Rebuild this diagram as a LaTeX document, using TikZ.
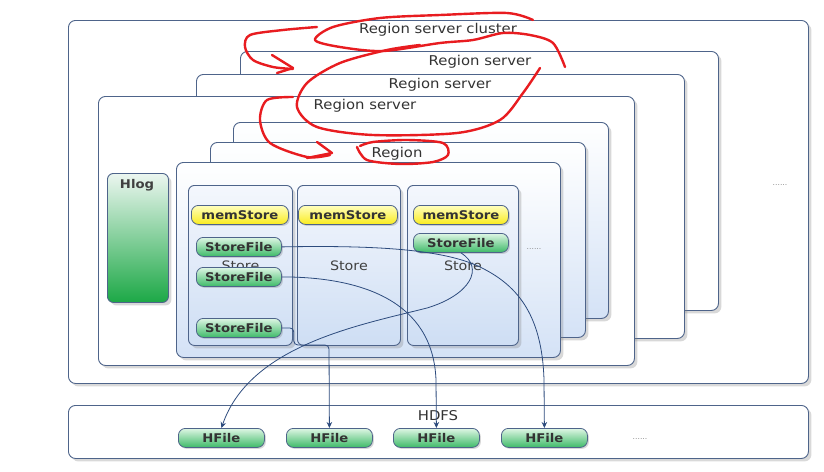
\documentclass[tikz,border=0pt]{standalone}
\usepackage{fontspec}
\setmainfont{DejaVu Sans}[FakeStretch=1.1]
\usetikzlibrary{shadows,arrows.meta}
\definecolor{boxline}{RGB}{78,100,138}
\definecolor{linkblue}{RGB}{45,75,125}
\definecolor{regbot}{RGB}{212,226,246}
\definecolor{storetop}{RGB}{244,247,253}
\definecolor{storebot}{RGB}{206,222,244}
\definecolor{memtop}{RGB}{255,255,190}
\definecolor{membot}{RGB}{250,236,30}
\definecolor{filetop}{RGB}{222,246,228}
\definecolor{filebot}{RGB}{62,186,104}
\definecolor{hlogtop}{RGB}{236,246,240}
\definecolor{hlogbot}{RGB}{28,168,70}
\definecolor{inkred}{RGB}{232,28,32}
\tikzset{
  panel/.style={draw=boxline, line width=0.9pt, rounded corners=7pt, fill=white,
    drop shadow={shadow xshift=3pt, shadow yshift=-3pt, opacity=0.3},
    anchor=north west, inner sep=0pt},
  regionbox/.style={panel, top color=white, bottom color=regbot},
  storebox/.style={panel, rounded corners=6pt, top color=storetop, bottom color=storebot,
    font=\fontsize{13}{15}\selectfont, text=black!75},
  chip/.style={draw=boxline, line width=0.8pt, rounded corners=7pt, anchor=north west,
    inner sep=0pt, font=\bfseries\fontsize{12}{13}\selectfont, text=black!80,
    drop shadow={shadow xshift=1.5pt, shadow yshift=-1.5pt, opacity=0.3}},
  memchip/.style={chip, top color=memtop, bottom color=membot, minimum height=19pt},
  filechip/.style={chip, top color=filetop, bottom color=filebot, minimum height=19pt},
  tag/.style={inner sep=0pt, font=\fontsize{13.5}{15}\selectfont, text=black!80},
  dots/.style={inner sep=0pt, font=\fontsize{7}{8}\selectfont, text=black!50},
  link/.style={draw=linkblue, line width=0.8pt, ->},
  redink/.style={draw=inkred, line width=2.4pt, line cap=round, line join=round},
}
\begin{document}
\begin{tikzpicture}[x=1pt, y=-1pt, >={Stealth[length=6pt,width=5.5pt]}]
  \useasboundingbox (0,0) rectangle (824,471);
  % cluster and region servers
  \node[panel, minimum width=740pt, minimum height=363pt] (cluster) at (68,20) {};
  \node[tag] (clusterlbl) at (438,30) {Region server cluster};
  \node[panel, minimum width=478pt, minimum height=259pt] (rsA) at (240,51) {};
  \node[tag] (rsAlbl) at (480,62) {Region server};
  \node[panel, minimum width=488pt, minimum height=264pt] (rsB) at (196,74) {};
  \node[tag] (rsBlbl) at (440,85) {Region server};
  \node[panel, minimum width=536pt, minimum height=269pt] (rsC) at (98,96) {};
  \node[tag] (rsClbl) at (365,106) {Region server};
  \node[dots] (moreRS) at (780,185) {......};
  % regions
  \node[regionbox, minimum width=375pt, minimum height=196pt] (regA) at (233,122) {};
  \node[regionbox, minimum width=375pt, minimum height=195pt] (regB) at (210,142) {};
  \node[tag] (regBlbl) at (397,154) {Region};
  \node[regionbox, minimum width=384pt, minimum height=195pt] (regC) at (176,162) {};
  \node[dots] (moreStore) at (534,249) {......};
  % hlog
  \node[panel, rounded corners=6pt, top color=hlogtop, bottom color=hlogbot,
    minimum width=61pt, minimum height=129pt] (hlog) at (107,173) {};
  \node[inner sep=0pt, font=\bfseries\fontsize{12}{13}\selectfont, text=black!75]
    (hloglbl) at (137,185) {Hlog};
  % stores
  \node[storebox, minimum width=104pt, minimum height=160pt] (st1) at (188,185) {Store};
  \node[storebox, minimum width=103pt, minimum height=160pt] (st2) at (297,185) {Store};
  \node[storebox, minimum width=111pt, minimum height=160pt] (st3) at (407,185) {Store};
  \node[memchip, minimum width=97pt] (mem1) at (191,205) {memStore};
  \node[memchip, minimum width=99pt] (mem2) at (298,205) {memStore};
  \node[memchip, minimum width=95pt] (mem3) at (413,205) {memStore};
  \node[filechip, minimum width=85pt] (sf1) at (196,237) {StoreFile};
  \node[filechip, minimum width=85pt] (sf2) at (196,267) {StoreFile};
  \node[filechip, minimum width=85pt] (sf3) at (196,318) {StoreFile};
  \node[filechip, minimum width=95pt] (sf4) at (413,233) {StoreFile};
  % hdfs
  \node[panel, minimum width=740pt, minimum height=53pt] (hdfs) at (68,405) {};
  \node[filechip, minimum width=86pt] (hf1) at (178,428) {HFile};
  \node[filechip, minimum width=86pt] (hf2) at (286,428) {HFile};
  \node[filechip, minimum width=86pt] (hf3) at (393,428) {HFile};
  \node[filechip, minimum width=86pt] (hf4) at (501,428) {HFile};
  \node[dots] (moreHF) at (640,439) {......};
  \node[tag] (hdfslbl) at (438,416) {HDFS};
  % flushes to hdfs
  \coordinate (bend) at (329,345);
  \draw[link] (sf1.east) .. controls (380,245) and (445,250) .. (480,267)
    .. controls (515,284) and (542,312) .. (544,380) -- (hf4.north);
  \draw[link] (sf4.south) .. controls (485,268) and (470,295) .. (427,308)
    .. controls (360,325) and (250,345) .. (hf1.north);
  \draw[link] (sf2.east) .. controls (360,277) and (433,300) .. (436,380) -- (hf3.north);
  \draw[link, rounded corners=4pt] (sf3.east) -- ++(12,0) |- (bend) -- (hf2.north);
  % red marks
  \draw[redink] plot[smooth] coordinates {(317,27) (283,30) (250,35) (245,47) (253,60) (273,67) (293,69)};
  \draw[redink] (272,55) -- (293,68) -- (277,73);
  \draw[redink] plot[smooth] coordinates {(533,20) (507,13) (440,15) (380,18) (333,27) (315,40)
    (340,47) (383,51) (440,43) (473,40) (503,33) (530,35) (553,43) (565,67)};
  \draw[redink] plot[smooth] coordinates {(540,68) (523,93) (500,120) (457,133) (373,135)
    (317,127) (297,107) (307,83) (340,63) (387,50) (420,45)};
  \draw[redink] plot[smooth] coordinates {(293,97) (267,100) (260,120) (270,143) (307,157) (330,155)};
  \draw[redink] (317,142) -- (332,153) -- (307,158);
  \draw[redink] plot[smooth] coordinates {(357,147) (367,160) (400,164) (433,162) (448,155)
    (443,143) (407,140) (373,142) (360,146)};
\end{tikzpicture}
\end{document}
